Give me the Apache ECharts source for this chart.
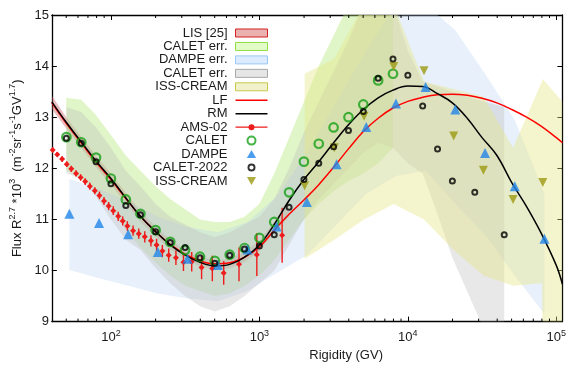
<!DOCTYPE html>
<html><head><meta charset="utf-8">
<script src="https://cdn.jsdelivr.net/npm/echarts@6/dist/echarts.min.js"></script>
<style>html,body{margin:0;padding:0;background:#fff}#c{width:569px;height:367px}</style>
</head><body><div id="c"></div>
<script>
// ---------------- data ----------------
const curveR = [40, 50, 63, 79, 100, 126, 158, 200, 251, 316, 398, 501, 631, 794, 1000, 1259, 1585, 1995, 2512, 3162, 3981, 5012, 6310, 7943, 10000, 12589, 15849, 19953, 25119, 31623, 39811, 50119, 63096, 79433, 100000, 110000];
const lfValues = [13.28, 12.88, 12.50, 12.13, 11.78, 11.41, 11.06, 10.76, 10.51, 10.32, 10.19, 10.13, 10.15, 10.26, 10.46, 10.79, 11.10, 11.38, 11.68, 12.02, 12.38, 12.72, 12.98, 13.18, 13.31, 13.39, 13.44, 13.45, 13.43, 13.37, 13.28, 13.15, 13.00, 12.82, 12.60, 12.50];
const rmValues = [13.30, 12.90, 12.52, 12.15, 11.80, 11.42, 11.06, 10.76, 10.50, 10.30, 10.16, 10.09, 10.12, 10.26, 10.50, 10.90, 11.37, 11.78, 12.13, 12.50, 12.85, 13.15, 13.38, 13.53, 13.61, 13.60, 13.46, 13.28, 12.98, 12.60, 12.25, 11.72, 11.25, 10.72, 10.10, 9.73];

const amsR = [40.5, 43.5, 46.9, 50.4, 54.1, 58.2, 62.5, 67.1, 72.1, 77.9, 83.7, 89.8, 96.5, 103.7, 112, 120, 129, 141, 154, 169, 186, 203, 222, 245, 274, 308, 350, 408, 482, 575, 729, 961, 1423];
const amsValues = [12.36, 12.27, 12.18, 12.08, 11.99, 11.90, 11.82, 11.74, 11.65, 11.56, 11.47, 11.36, 11.26, 11.17, 11.06, 10.97, 10.87, 10.78, 10.72, 10.66, 10.58, 10.50, 10.38, 10.30, 10.25, 10.16, 10.17, 10.06, 10.04, 9.95, 10.12, 10.31, 10.69];
const amsErrors = [0.05, 0.05, 0.055, 0.055, 0.06, 0.06, 0.065, 0.065, 0.07, 0.07, 0.075, 0.08, 0.08, 0.085, 0.09, 0.09, 0.095, 0.10, 0.10, 0.11, 0.11, 0.12, 0.12, 0.13, 0.14, 0.17, 0.19, 0.23, 0.25, 0.23, 0.33, 0.42, 0.54];

const caletR = [50.1, 63.1, 79.4, 100, 126, 158, 200, 251, 316, 398, 501, 631, 794, 1000, 1259, 1585, 1995, 2512, 3162, 3981, 5012, 6310, 7943];
const caletValues = [12.61, 12.51, 12.21, 11.80, 11.39, 11.11, 10.79, 10.56, 10.40, 10.27, 10.19, 10.31, 10.44, 10.64, 10.95, 11.53, 12.13, 12.48, 12.80, 13.00, 13.25, 13.72, 13.85];

const dampeR = [52.5, 83.2, 130.6, 207, 328, 525, 832, 1306, 2089, 3311, 5248, 8318, 13183, 20893, 33113, 52481, 83176];
const dampeValues = [11.11, 10.93, 10.71, 10.36, 10.23, 10.11, 10.41, 10.86, 11.34, 12.08, 12.81, 13.27, 13.59, 13.15, 12.30, 11.65, 10.62];

const calet22R = [50.1, 63.1, 79.4, 100, 126, 158, 200, 251, 316, 398, 501, 631, 794, 1000, 1259, 1585, 1995, 2512, 3162, 3981, 5012, 6310, 7943, 10000, 12589, 15849, 19953, 28250, 44600];
const calet22Values = [12.59, 12.49, 12.13, 11.70, 11.27, 11.09, 10.76, 10.55, 10.45, 10.25, 10.14, 10.30, 10.42, 10.48, 10.70, 11.24, 11.78, 12.10, 12.42, 12.74, 13.11, 13.76, 14.14, 13.82, 13.22, 12.38, 11.75, 11.53, 10.70];

const creamR = [2018, 3199, 5070, 8035, 12850, 20370, 32290, 51170, 81100];
const creamValues = [11.66, 12.40, 13.02, 13.99, 13.91, 12.63, 11.96, 11.39, 11.72];

// error bands (lower / upper edges)
const lisBandR = [40, 50, 63, 79, 100, 126, 158, 200, 251, 316, 398, 501, 631, 794, 1000, 1259, 1585];
const lisBandLo = [13.16, 12.78, 12.40, 12.03, 11.68, 11.31, 10.96, 10.66, 10.41, 10.22, 10.08, 10.02, 10.04, 10.16, 10.38, 10.74, 11.05];
const lisBandHi = [13.42, 13.00, 12.62, 12.25, 11.90, 11.52, 11.16, 10.86, 10.60, 10.40, 10.27, 10.20, 10.23, 10.36, 10.58, 10.96, 11.42];

const caletBandR = [50, 63, 79, 100, 126, 158, 200, 251, 316, 398, 501, 631, 794, 1000, 1259, 1585, 1995, 2512, 3162, 3981, 5012, 6310, 7943];
const caletBandLo = [11.95, 11.80, 11.55, 11.20, 10.80, 10.45, 10.15, 9.90, 9.70, 9.60, 9.50, 9.55, 9.70, 9.90, 10.20, 10.60, 11.00, 11.30, 11.55, 11.75, 11.90, 12.10, 12.40];
const caletBandHi = [13.38, 13.34, 13.05, 12.65, 12.25, 11.95, 11.65, 11.40, 11.20, 11.00, 10.95, 10.95, 11.05, 11.30, 11.90, 12.60, 13.30, 14.00, 14.60, 15.20, 15.20, 15.20, 15.20];

const dampeBandR = [52.5, 83.2, 130.6, 207, 328, 525, 832, 1306, 2089, 3311, 5248, 8318, 13183, 20893, 33113, 52481, 83176];
const dampeBandLo = [10.01, 9.85, 9.70, 9.55, 9.45, 9.40, 9.60, 9.95, 10.30, 10.90, 11.50, 11.85, 11.95, 11.30, 10.70, 9.90, 9.15];
const dampeBandHi = [11.79, 11.60, 11.35, 11.05, 10.85, 10.75, 10.95, 11.45, 12.30, 13.30, 14.30, 15.20, 15.20, 14.70, 13.85, 12.95, 11.50];

const calet22BandR = [50.1, 63.1, 79.4, 100, 126, 158, 200, 251, 316, 398, 501, 631, 794, 1000, 1259, 1585, 1995, 2512, 3162, 3981, 5012, 6310, 7943, 10000, 12589, 15849, 19953, 28250, 44600];
const calet22BandLo = [11.90, 11.80, 11.45, 11.00, 10.60, 10.40, 10.05, 9.75, 9.50, 9.30, 9.20, 9.30, 9.50, 9.75, 10.00, 10.50, 11.00, 11.40, 11.70, 12.00, 12.30, 12.50, 12.40, 12.10, 11.90, 11.10, 10.25, 9.25, 8.00];
const calet22BandHi = [13.20, 13.10, 12.80, 12.40, 11.95, 11.65, 11.30, 11.05, 10.90, 10.75, 10.65, 10.75, 10.90, 11.05, 11.40, 12.00, 12.70, 13.30, 13.90, 14.50, 15.20, 15.20, 15.20, 14.30, 13.70, 13.60, 13.50, 13.35, 13.20];

const creamBandR = [2018, 3199, 5070, 8035, 12850, 20370, 32290, 51170, 80000, 81100, 110000];
const creamBandLo = [10.23, 10.60, 11.00, 11.30, 11.00, 10.40, 9.90, 9.70, 9.75, 8.60, 8.60];
const creamBandHi = [13.85, 14.15, 15.20, 15.20, 13.70, 13.55, 13.40, 12.40, 13.70, 13.75, 13.30];

const minorTickR = [50, 60, 70, 80, 90, 200, 300, 400, 500, 600, 700, 800, 900, 2000, 3000, 4000, 5000, 6000, 7000, 8000, 9000, 20000, 30000, 40000, 50000, 60000, 70000, 80000, 90000];

// ---------------- chart ----------------
const FONT = '"Liberation Sans", Arial, Helvetica, sans-serif';
const TXT = '#1a1a1a';
const chart = echarts.init(document.getElementById('c'), null, {renderer: 'canvas', width: 569, height: 367});

function band(name, R, lo, hi, color) {
  return {
    type: 'custom', name: name, data: R.map((r, i) => [r, lo[i], hi[i]]), encode: {x: 0, y: [1, 2]},
    z: 1, silent: true, animation: false,
    renderItem: (params, api) => {
      if (params.dataIndex !== 0) return null;
      const pts = [];
      for (let i = 0; i < R.length; i++) pts.push(api.coord([R[i], hi[i]]));
      for (let i = R.length - 1; i >= 0; i--) pts.push(api.coord([R[i], lo[i]]));
      const cs = params.coordSys;
      return {type: 'polygon', shape: {points: pts}, style: {fill: color},
              clipPath: {type: 'rect', shape: {x: cs.x, y: cs.y, width: cs.width, height: cs.height}}};
    }
  };
}

const supRich = {
  n: {fontSize: 13, fontFamily: FONT, color: TXT, lineHeight: 18},
  s: {fontSize: 9, fontFamily: FONT, color: TXT, lineHeight: 11, verticalAlign: 'top'}
};

const series = [
  band('LIS [25]', lisBandR, lisBandLo, lisBandHi, 'rgba(205,92,92,0.40)'),
  band('CALET err.', caletBandR, caletBandLo, caletBandHi, 'rgba(180,232,117,0.40)'),
  band('DAMPE err.', dampeBandR, dampeBandLo, dampeBandHi, 'rgba(178,206,241,0.30)'),
  band('CALET err. (2)', calet22BandR, calet22BandLo, calet22BandHi, 'rgba(189,189,189,0.35)'),
  band('ISS-CREAM band', creamBandR, creamBandLo, creamBandHi, 'rgba(230,230,130,0.40)'),
  {type: 'custom', name: 'AMS-02 bars', data: amsR.map((r, i) => [r, amsValues[i] - amsErrors[i], amsValues[i] + amsErrors[i]]),
   encode: {x: 0, y: [1, 2]}, z: 3, silent: true, animation: false,
   renderItem: (p, api) => {
     const a = api.coord([api.value(0), api.value(1)]);
     const b = api.coord([api.value(0), api.value(2)]);
     return {type: 'line', shape: {x1: a[0], y1: a[1], x2: b[0], y2: b[1]}, style: {stroke: '#ee1c1c', lineWidth: 1.4}};
   }},
  {type: 'line', name: 'AMS-02', data: amsR.map((r, i) => [r, amsValues[i]]), symbol: 'diamond', symbolSize: 6,
   showSymbol: true, itemStyle: {color: '#ee1c1c'}, lineStyle: {width: 0, opacity: 0}, z: 3, animation: false, silent: true},
  {type: 'line', name: 'LF', data: curveR.map((r, i) => [r, lfValues[i]]), smooth: 0.4, symbol: 'none',
   lineStyle: {color: '#ff0000', width: 1.5}, itemStyle: {color: '#ff0000'}, z: 4, animation: false, silent: true},
  {type: 'line', name: 'RM', data: curveR.map((r, i) => [r, rmValues[i]]), smooth: 0.4, symbol: 'none',
   lineStyle: {color: '#000000', width: 1.5}, itemStyle: {color: '#000000'}, z: 4, animation: false, silent: true},
  {type: 'scatter', name: 'CALET', data: caletR.map((r, i) => [r, caletValues[i]]), symbol: 'circle', symbolSize: 8.5,
   itemStyle: {color: 'rgba(0,0,0,0)', borderColor: '#16a016', borderWidth: 2.2}, z: 5, animation: false, silent: true},
  {type: 'scatter', name: 'DAMPE', data: dampeR.map((r, i) => [r, dampeValues[i]]), symbol: 'triangle', symbolSize: 10,
   itemStyle: {color: '#1f84e8'}, z: 5, animation: false, silent: true},
  {type: 'scatter', name: 'CALET-2022', data: calet22R.map((r, i) => [r, calet22Values[i]]), symbol: 'circle', symbolSize: 5,
   itemStyle: {color: 'rgba(0,0,0,0)', borderColor: '#000', borderWidth: 2}, z: 6, animation: false, silent: true},
  {type: 'scatter', name: 'ISS-CREAM', data: creamR.map((r, i) => [r, creamValues[i]]), symbol: 'triangle', symbolRotate: 180, symbolSize: 9,
   itemStyle: {color: '#9c9a12'}, z: 5, animation: false, silent: true},
  {type: 'custom', name: 'minor ticks', data: minorTickR.map(r => [r, 9]), encode: {x: 0, y: 1}, silent: true, z: 10, animation: false,
   renderItem: (p, api) => {
     const b = api.coord([api.value(0), 9]);
     const t = api.coord([api.value(0), 15]);
     return {type: 'group', children: [
       {type: 'line', shape: {x1: b[0], y1: b[1], x2: b[0], y2: b[1] - 3}, style: {stroke: '#000', lineWidth: 1}},
       {type: 'line', shape: {x1: t[0], y1: t[1], x2: t[0], y2: t[1] + 3}, style: {stroke: '#000', lineWidth: 1}}
     ]};
   }}
];

const xLabelFmt = v => {
  const e = Math.log10(v);
  if (Math.abs(e - Math.round(e)) > 1e-6) return '';
  return '{n|10}{s|' + Math.round(e) + '}';
};

const axisLine = {show: true, lineStyle: {color: '#000', width: 1.3}};
const option = {
  animation: false,
  backgroundColor: '#fff',
  grid: {left: 50, right: 3.5, top: 15, bottom: 31, containLabel: false},
  xAxis: [
    {type: 'log', logBase: 10, min: 40, max: 110000, position: 'bottom',
     axisLine: axisLine, axisTick: {inside: true, length: 5, lineStyle: {color: '#000', width: 1}},
     axisLabel: {formatter: xLabelFmt, margin: 7, rich: supRich, showMinLabel: false, showMaxLabel: false},
     splitLine: {show: false}, minorTick: {show: false},
     name: 'Rigidity (GV)', nameLocation: 'middle', nameGap: 22,
     nameTextStyle: {fontSize: 13, fontFamily: FONT, color: TXT, padding: [0, 0, 0, 78]}},
    {type: 'log', logBase: 10, min: 40, max: 110000, position: 'top',
     axisLine: axisLine, axisTick: {inside: true, length: 5, lineStyle: {color: '#000', width: 1}},
     axisLabel: {show: false}, splitLine: {show: false}}
  ],
  yAxis: [
    {type: 'value', min: 9, max: 15, interval: 1, position: 'left',
     axisLine: axisLine, axisTick: {inside: true, length: 5, lineStyle: {color: '#000', width: 1}},
     axisLabel: {fontSize: 13, fontFamily: FONT, color: TXT, margin: 3},
     splitLine: {show: false},
     name: '{n|Flux R}{s|2.7}{n| *10}{s|3}{n|  (m}{s|-2}{n|sr}{s|-1}{n|s}{s|-1}{n|GV}{s|1.7}{n|)}',
     nameLocation: 'middle', nameRotate: 90, nameGap: 14,
     nameTextStyle: {rich: supRich}},
    {type: 'value', min: 9, max: 15, interval: 1, position: 'right',
     axisLine: axisLine, axisTick: {inside: true, length: 5, lineStyle: {color: '#000', width: 1}},
     axisLabel: {show: false}, splitLine: {show: false}}
  ],
  legend: {
    orient: 'vertical', right: 301, top: 26.5, padding: 0, align: 'right',
    itemWidth: 32, itemHeight: 8, itemGap: 0.45, selectedMode: false, symbolKeepAspect: true,
    textStyle: {fontSize: 13, fontFamily: FONT, color: TXT, lineHeight: 13, padding: [0, 3, 0, 0]},
    formatter: n => n.replace(' (2)', '').replace(' band', ''),
    data: [
      {name: 'LIS [25]', icon: 'rect', itemStyle: {color: '#ebb0b0', borderColor: '#d32020', borderWidth: 1}},
      {name: 'CALET err.', icon: 'rect', itemStyle: {color: '#e3fbc8', borderColor: '#8ee040', borderWidth: 1}},
      {name: 'DAMPE err.', icon: 'rect', itemStyle: {color: '#dcebff', borderColor: '#9cc8f4', borderWidth: 1}},
      {name: 'CALET err. (2)', icon: 'rect', itemStyle: {color: '#e6e6e6', borderColor: '#a8a8a8', borderWidth: 1}},
      {name: 'ISS-CREAM band', icon: 'rect', itemStyle: {color: '#f1f1cc', borderColor: '#c8c84a', borderWidth: 1}},
      {name: 'LF', icon: 'path://M0,0H32V1.5H0Z', itemStyle: {color: '#ff0000', borderWidth: 0}},
      {name: 'RM', icon: 'path://M0,0H32V1.5H0Z', itemStyle: {color: '#000000', borderWidth: 0}},
      {name: 'AMS-02', icon: 'path://M0,2.45H32V3.55H0Z M13,3A3,3 0 1,1 19,3A3,3 0 1,1 13,3Z', itemStyle: {color: '#ee1c1c', borderWidth: 0}},
      {name: 'CALET'},
      {name: 'DAMPE', icon: 'path://M5,0L10,8.7L0,8.7Z', itemStyle: {color: '#1f84e8', borderWidth: 0}},
      {name: 'CALET-2022', icon: 'path://M0,4A4,4 0 1,1 8,4A4,4 0 1,1 0,4Z M1.9,4A2.1,2.1 0 1,0 6.1,4A2.1,2.1 0 1,0 1.9,4Z', itemStyle: {color: '#000000', borderWidth: 0}},
      {name: 'ISS-CREAM', icon: 'path://M0,0L10,0L5,8.7Z', itemStyle: {color: '#9c9a12', borderWidth: 0}}
    ]
  },
  series: series
};
chart.setOption(option);
</script>
</body></html>
